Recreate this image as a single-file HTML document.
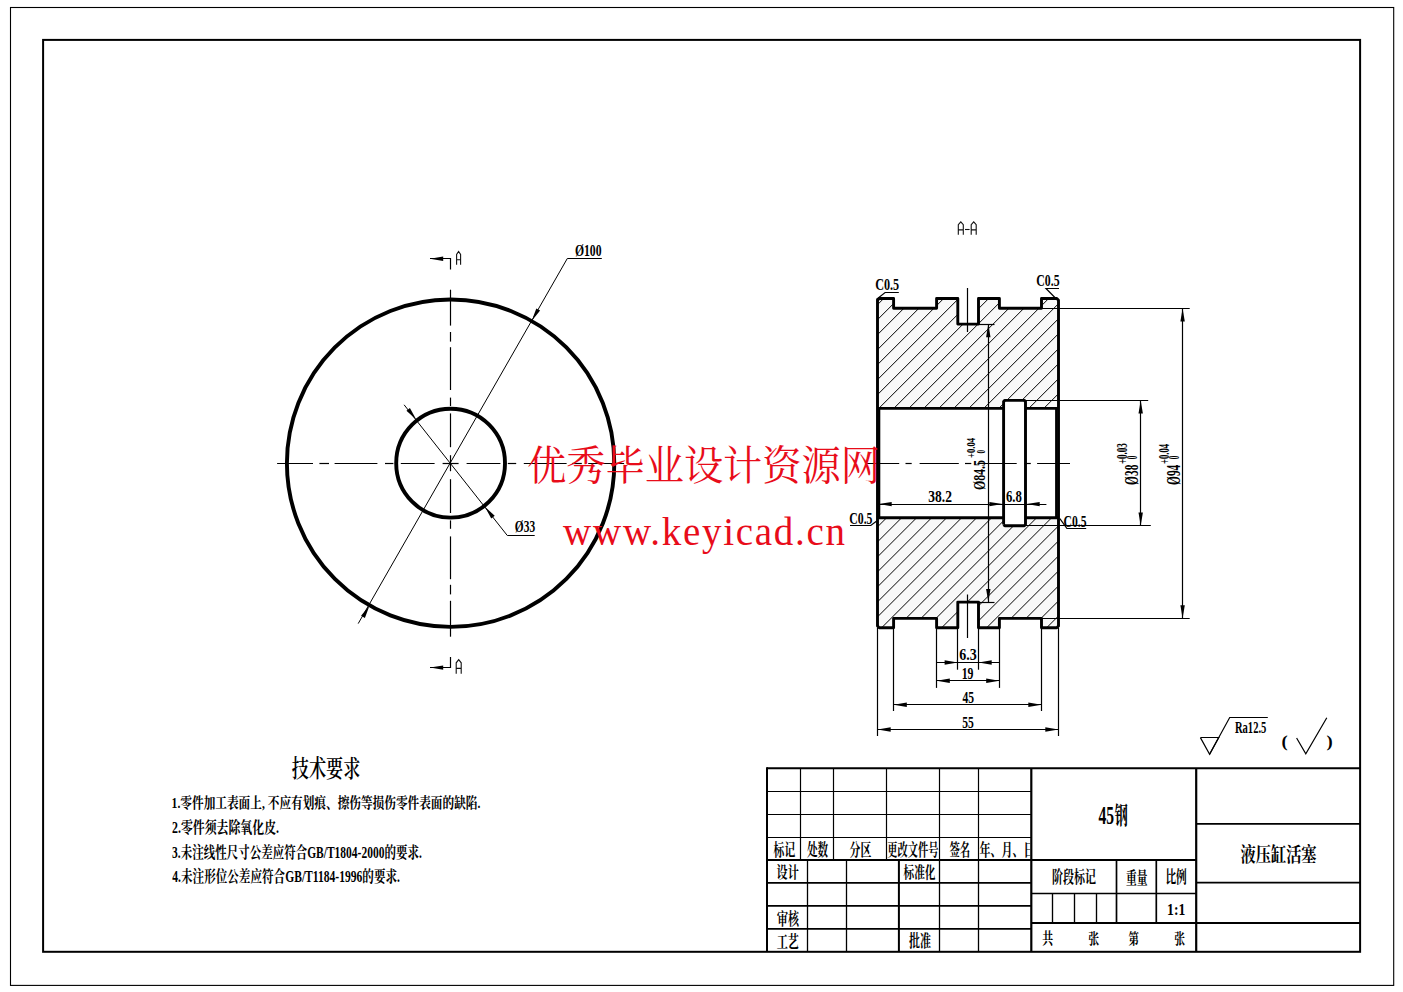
<!DOCTYPE html>
<html><head><meta charset="utf-8"><title>Drawing</title>
<style>
html,body{margin:0;padding:0;background:#fff;font-family:"Liberation Sans",sans-serif;}
svg{display:block;}
.sb{font-family:"Liberation Serif","Noto Serif CJK SC",serif;font-weight:bold;fill:#000;}
.sr{font-family:"Liberation Serif","Noto Serif CJK SC",serif;fill:#e80c1a;}
</style></head><body>
<svg width="1403" height="992" viewBox="0 0 1403 992">
<rect width="1403" height="992" fill="#fff"/>
<rect x="10.5" y="7.5" width="1383.2" height="977.9" fill="none" stroke="#000" stroke-width="1.1"/>
<rect x="43.1" y="39.9" width="1317" height="911.9" fill="none" stroke="#000" stroke-width="2"/>
<circle cx="450.6" cy="463.2" r="163.7" fill="none" stroke="#000" stroke-width="3.9"/>
<circle cx="450.6" cy="463.2" r="54.4" fill="none" stroke="#000" stroke-width="3.9"/>
<line x1="588.2" y1="463.5" x2="624.1" y2="463.5" stroke="#000" stroke-width="1.2"/>
<line x1="450.5" y1="600.8" x2="450.5" y2="636.7" stroke="#000" stroke-width="1.2"/>
<line x1="313" y1="463.5" x2="277.1" y2="463.5" stroke="#000" stroke-width="1.2"/>
<line x1="450.5" y1="325.6" x2="450.5" y2="289.7" stroke="#000" stroke-width="1.2"/>
<line x1="572.2" y1="463.5" x2="581.8" y2="463.5" stroke="#000" stroke-width="1.2"/>
<line x1="450.5" y1="584.8" x2="450.5" y2="594.4" stroke="#000" stroke-width="1.2"/>
<line x1="329" y1="463.5" x2="319.4" y2="463.5" stroke="#000" stroke-width="1.2"/>
<line x1="450.5" y1="341.6" x2="450.5" y2="332" stroke="#000" stroke-width="1.2"/>
<line x1="523.8" y1="463.5" x2="566.6" y2="463.5" stroke="#000" stroke-width="1.2"/>
<line x1="450.5" y1="536.4" x2="450.5" y2="579.2" stroke="#000" stroke-width="1.2"/>
<line x1="377.4" y1="463.5" x2="334.6" y2="463.5" stroke="#000" stroke-width="1.2"/>
<line x1="450.5" y1="390" x2="450.5" y2="347.2" stroke="#000" stroke-width="1.2"/>
<line x1="507.8" y1="463.5" x2="516.2" y2="463.5" stroke="#000" stroke-width="1.2"/>
<line x1="450.5" y1="520.4" x2="450.5" y2="528.8" stroke="#000" stroke-width="1.2"/>
<line x1="393.4" y1="463.5" x2="385" y2="463.5" stroke="#000" stroke-width="1.2"/>
<line x1="450.5" y1="406" x2="450.5" y2="397.6" stroke="#000" stroke-width="1.2"/>
<line x1="466.6" y1="463.5" x2="500.4" y2="463.5" stroke="#000" stroke-width="1.2"/>
<line x1="450.5" y1="479.2" x2="450.5" y2="513" stroke="#000" stroke-width="1.2"/>
<line x1="434.6" y1="463.5" x2="400.8" y2="463.5" stroke="#000" stroke-width="1.2"/>
<line x1="450.5" y1="447.2" x2="450.5" y2="413.4" stroke="#000" stroke-width="1.2"/>
<line x1="442.6" y1="463.5" x2="458.6" y2="463.5" stroke="#000" stroke-width="1.2"/>
<line x1="450.5" y1="455.2" x2="450.5" y2="471.2" stroke="#000" stroke-width="1.2"/>
<path d="M358.2 623.6 L567.3 258.5 L601.8 258.5" fill="none" stroke="#000" stroke-width="1" stroke-linejoin="miter"/>
<path d="M531.68 320.99 L536.3 308.43 L540.12 310.61 Z" fill="#000"/>
<path d="M369.52 605.41 L364.9 617.97 L361.08 615.79 Z" fill="#000"/>
<path d="M404.1 404.8 L507.3 535.5 L534.7 535.5" fill="none" stroke="#000" stroke-width="1" stroke-linejoin="miter"/>
<path d="M484.85 506.75 L494.73 515.76 L491.28 518.48 Z" fill="#000"/>
<path d="M416.35 419.65 L406.47 410.64 L409.92 407.92 Z" fill="#000"/>
<path d="M430 258.5 L450.5 258.5 L450.5 269.6" fill="none" stroke="#000" stroke-width="1.2" stroke-linejoin="miter"/>
<path d="M430 258.8 L443.2 256.6 L443.2 261 Z" fill="#000"/>
<path d="M430 667.5 L450.5 667.5 L450.5 657" fill="none" stroke="#000" stroke-width="1.2" stroke-linejoin="miter"/>
<path d="M430 667.6 L443.2 665.4 L443.2 669.8 Z" fill="#000"/>
<path d="M456.6 264.8 L456.6 254.43 L458.6 251.5 L460.6 254.43 L460.6 264.8 M456.6 259.75 L460.6 259.75" fill="none" stroke="#111" stroke-width="1.1"/>
<path d="M456.2 673.7 L456.2 662.78 L458.7 659.7 L461.2 662.78 L461.2 673.7 M456.2 668.38 L461.2 668.38" fill="none" stroke="#111" stroke-width="1.1"/>
<path d="M958.3 234.8 L958.3 224.66 L960.8 221.8 L963.3 224.66 L963.3 234.8 M958.3 229.86 L963.3 229.86" fill="none" stroke="#111" stroke-width="1.1"/>
<path d="M971.2 234.8 L971.2 224.66 L973.7 221.8 L976.2 224.66 L976.2 234.8 M971.2 229.86 L976.2 229.86" fill="none" stroke="#111" stroke-width="1.1"/>
<line x1="965" y1="229.5" x2="969.6" y2="229.5" stroke="#111" stroke-width="1.1"/>
<path d="M877.5 408.4 L877.5 298.5 L893.6 298.5 L893.6 308.3 L936.6 308.3 L936.6 298.5 L957.8 298.5 L957.8 324.1 L978.5 324.1 L978.5 298.5 L999.4 298.5 L999.4 308.3 L1041.5 308.3 L1041.5 298.5 L1058.5 298.5 L1058.5 408.4 L1025.5 408.4 L1025.5 400.4 L1003.6 400.4 L1003.6 408.4 Z" fill="#f8f8f8"/><path d="M877.5 517.8 L877.5 627.7 L893.6 627.7 L893.6 618.4 L936.6 618.4 L936.6 627.7 L957.8 627.7 L957.8 602.1 L978.5 602.1 L978.5 627.7 L999.4 627.7 L999.4 618.4 L1041.5 618.4 L1041.5 627.7 L1058.5 627.7 L1058.5 517.8 L1025.5 517.8 L1025.5 525.8 L1003.6 525.8 L1003.6 517.8 Z" fill="#f8f8f8"/>
<clipPath id="ct"><path d="M877.5 408.4 L877.5 298.5 L893.6 298.5 L893.6 308.3 L936.6 308.3 L936.6 298.5 L957.8 298.5 L957.8 324.1 L978.5 324.1 L978.5 298.5 L999.4 298.5 L999.4 308.3 L1041.5 308.3 L1041.5 298.5 L1058.5 298.5 L1058.5 408.4 L1025.5 408.4 L1025.5 400.4 L1003.6 400.4 L1003.6 408.4 Z"/></clipPath><clipPath id="cb"><path d="M877.5 517.8 L877.5 627.7 L893.6 627.7 L893.6 618.4 L936.6 618.4 L936.6 627.7 L957.8 627.7 L957.8 602.1 L978.5 602.1 L978.5 627.7 L999.4 627.7 L999.4 618.4 L1041.5 618.4 L1041.5 627.7 L1058.5 627.7 L1058.5 517.8 L1025.5 517.8 L1025.5 525.8 L1003.6 525.8 L1003.6 517.8 Z"/></clipPath>
<path d="M696.8 410.4 L810.7 296.5 M711.8 410.4 L825.7 296.5 M726.8 410.4 L840.7 296.5 M741.8 410.4 L855.7 296.5 M756.8 410.4 L870.7 296.5 M771.8 410.4 L885.7 296.5 M786.8 410.4 L900.7 296.5 M801.8 410.4 L915.7 296.5 M816.8 410.4 L930.7 296.5 M831.8 410.4 L945.7 296.5 M846.8 410.4 L960.7 296.5 M861.8 410.4 L975.7 296.5 M876.8 410.4 L990.7 296.5 M891.8 410.4 L1005.7 296.5 M906.8 410.4 L1020.7 296.5 M921.8 410.4 L1035.7 296.5 M936.8 410.4 L1050.7 296.5 M951.8 410.4 L1065.7 296.5 M966.8 410.4 L1080.7 296.5 M981.8 410.4 L1095.7 296.5 M996.8 410.4 L1110.7 296.5 M1011.8 410.4 L1125.7 296.5 M1026.8 410.4 L1140.7 296.5 M1041.8 410.4 L1155.7 296.5 M1056.8 410.4 L1170.7 296.5 M1071.8 410.4 L1185.7 296.5 M1086.8 410.4 L1200.7 296.5 M1101.8 410.4 L1215.7 296.5 M1116.8 410.4 L1230.7 296.5 M1131.8 410.4 L1245.7 296.5 M1146.8 410.4 L1260.7 296.5 M1161.8 410.4 L1275.7 296.5 M1176.8 410.4 L1290.7 296.5 M1191.8 410.4 L1305.7 296.5 M1206.8 410.4 L1320.7 296.5 M1221.8 410.4 L1335.7 296.5 M1236.8 410.4 L1350.7 296.5 M1251.8 410.4 L1365.7 296.5 M1266.8 410.4 L1380.7 296.5 M1281.8 410.4 L1395.7 296.5 M1296.8 410.4 L1410.7 296.5 M1311.8 410.4 L1425.7 296.5 " clip-path="url(#ct)" stroke="#000" stroke-width="1.0" fill="none"/>
<path d="M594.7 629.7 L708.6 515.8 M609.7 629.7 L723.6 515.8 M624.7 629.7 L738.6 515.8 M639.7 629.7 L753.6 515.8 M654.7 629.7 L768.6 515.8 M669.7 629.7 L783.6 515.8 M684.7 629.7 L798.6 515.8 M699.7 629.7 L813.6 515.8 M714.7 629.7 L828.6 515.8 M729.7 629.7 L843.6 515.8 M744.7 629.7 L858.6 515.8 M759.7 629.7 L873.6 515.8 M774.7 629.7 L888.6 515.8 M789.7 629.7 L903.6 515.8 M804.7 629.7 L918.6 515.8 M819.7 629.7 L933.6 515.8 M834.7 629.7 L948.6 515.8 M849.7 629.7 L963.6 515.8 M864.7 629.7 L978.6 515.8 M879.7 629.7 L993.6 515.8 M894.7 629.7 L1008.6 515.8 M909.7 629.7 L1023.6 515.8 M924.7 629.7 L1038.6 515.8 M939.7 629.7 L1053.6 515.8 M954.7 629.7 L1068.6 515.8 M969.7 629.7 L1083.6 515.8 M984.7 629.7 L1098.6 515.8 M999.7 629.7 L1113.6 515.8 M1014.7 629.7 L1128.6 515.8 M1029.7 629.7 L1143.6 515.8 M1044.7 629.7 L1158.6 515.8 M1059.7 629.7 L1173.6 515.8 M1074.7 629.7 L1188.6 515.8 M1089.7 629.7 L1203.6 515.8 M1104.7 629.7 L1218.6 515.8 M1119.7 629.7 L1233.6 515.8 M1134.7 629.7 L1248.6 515.8 M1149.7 629.7 L1263.6 515.8 M1164.7 629.7 L1278.6 515.8 M1179.7 629.7 L1293.6 515.8 M1194.7 629.7 L1308.6 515.8 M1209.7 629.7 L1323.6 515.8 " clip-path="url(#cb)" stroke="#000" stroke-width="1.0" fill="none"/>
<path d="M877.5 408.4 L877.5 300.2 L879.2 298.5 L893.6 298.5 L893.6 308.3 L936.6 308.3 L936.6 298.5 L957.8 298.5 L957.8 324.1 L978.5 324.1 L978.5 298.5 L999.4 298.5 L999.4 308.3 L1041.5 308.3 L1041.5 298.5 L1056.8 298.5 L1058.5 300.2 L1058.5 408.4 L1058.5 517.8 L1058.5 517.8 L1058.5 626 L1056.8 627.7 L1041.5 627.7 L1041.5 618.4 L999.4 618.4 L999.4 627.7 L978.5 627.7 L978.5 602.1 L957.8 602.1 L957.8 627.7 L936.6 627.7 L936.6 618.4 L893.6 618.4 L893.6 627.7 L879.2 627.7 L877.5 626 L877.5 517.8 L877.5 408.4" fill="none" stroke="#000" stroke-width="2.9" stroke-linejoin="round"/>
<path d="M877.5 408.4 L1003.6 408.4" fill="none" stroke="#000" stroke-width="2.9" stroke-linejoin="miter"/>
<path d="M1025.5 408.4 L1058.5 408.4" fill="none" stroke="#000" stroke-width="2.9" stroke-linejoin="miter"/>
<path d="M877.5 517.8 L1003.6 517.8" fill="none" stroke="#000" stroke-width="2.9" stroke-linejoin="miter"/>
<path d="M1025.5 517.8 L1058.5 517.8" fill="none" stroke="#000" stroke-width="2.9" stroke-linejoin="miter"/>
<path d="M1003.6 524.6 L1003.6 401.6 L1004.8 400.4 L1024.3 400.4 L1025.5 401.6 L1025.5 524.6 L1024.3 525.8 L1004.8 525.8 L1003.6 524.6" fill="none" stroke="#000" stroke-width="2.9" stroke-linejoin="round"/>
<line x1="879.2" y1="408.4" x2="879.2" y2="517.8" stroke="#000" stroke-width="2.2"/>
<line x1="1056.2" y1="408.4" x2="1056.2" y2="517.8" stroke="#000" stroke-width="2.2"/>
<line x1="866.3" y1="463.5" x2="899.2" y2="463.5" stroke="#000" stroke-width="1.2"/>
<line x1="905.5" y1="463.5" x2="911.7" y2="463.5" stroke="#000" stroke-width="1.2"/>
<line x1="919.6" y1="463.5" x2="958.8" y2="463.5" stroke="#000" stroke-width="1.2"/>
<line x1="965" y1="463.5" x2="971.3" y2="463.5" stroke="#000" stroke-width="1.2"/>
<line x1="977.5" y1="463.5" x2="1016.7" y2="463.5" stroke="#000" stroke-width="1.2"/>
<line x1="1024.6" y1="463.5" x2="1030.8" y2="463.5" stroke="#000" stroke-width="1.2"/>
<line x1="1037.1" y1="463.5" x2="1070" y2="463.5" stroke="#000" stroke-width="1.2"/>
<line x1="967.5" y1="288" x2="967.5" y2="332" stroke="#000" stroke-width="1.2"/>
<line x1="967.5" y1="594.5" x2="967.5" y2="638" stroke="#000" stroke-width="1.2"/>
<line x1="988.5" y1="324.1" x2="988.5" y2="602.1" stroke="#000" stroke-width="1.2"/>
<line x1="978.5" y1="324.5" x2="994.5" y2="324.5" stroke="#000" stroke-width="1.2"/>
<line x1="978.5" y1="602.5" x2="994.5" y2="602.5" stroke="#000" stroke-width="1.2"/>
<path d="M988.3 324.1 L990.5 337.3 L986.1 337.3 Z" fill="#000"/>
<path d="M988.3 602.1 L986.1 588.9 L990.5 588.9 Z" fill="#000"/>
<line x1="1140.5" y1="400.4" x2="1140.5" y2="525.8" stroke="#000" stroke-width="1.2"/>
<line x1="1025.5" y1="400.5" x2="1148.2" y2="400.5" stroke="#000" stroke-width="1.2"/>
<line x1="1025.5" y1="525.5" x2="1150.8" y2="525.5" stroke="#000" stroke-width="1.2"/>
<path d="M1140.7 400.4 L1142.9 413.6 L1138.5 413.6 Z" fill="#000"/>
<path d="M1140.7 525.8 L1138.5 512.6 L1142.9 512.6 Z" fill="#000"/>
<line x1="1182.5" y1="308.3" x2="1182.5" y2="618.4" stroke="#000" stroke-width="1.2"/>
<line x1="1041.5" y1="308.5" x2="1189.7" y2="308.5" stroke="#000" stroke-width="1.2"/>
<line x1="1041.5" y1="618.5" x2="1189.7" y2="618.5" stroke="#000" stroke-width="1.2"/>
<path d="M1182.6 308.3 L1184.8 321.5 L1180.4 321.5 Z" fill="#000"/>
<path d="M1182.6 618.4 L1180.4 605.2 L1184.8 605.2 Z" fill="#000"/>
<line x1="877.5" y1="504.5" x2="1046.4" y2="504.5" stroke="#000" stroke-width="1.2"/>
<path d="M878.5 504.1 L891.7 501.9 L891.7 506.3 Z" fill="#000"/>
<path d="M1002.6 504.1 L989.4 506.3 L989.4 501.9 Z" fill="#000"/>
<path d="M1026.5 504.1 L1039.7 501.9 L1039.7 506.3 Z" fill="#000"/>
<line x1="957.5" y1="627.7" x2="957.5" y2="669.7" stroke="#000" stroke-width="1.2"/>
<line x1="978.5" y1="627.7" x2="978.5" y2="669.7" stroke="#000" stroke-width="1.2"/>
<line x1="936.4" y1="662.5" x2="999.4" y2="662.5" stroke="#000" stroke-width="1.2"/>
<path d="M957.8 662.5 L944.6 664.7 L944.6 660.3 Z" fill="#000"/>
<path d="M978.5 662.5 L991.7 660.3 L991.7 664.7 Z" fill="#000"/>
<line x1="936.5" y1="627.7" x2="936.5" y2="687.9" stroke="#000" stroke-width="1.2"/>
<line x1="999.5" y1="627.7" x2="999.5" y2="687.9" stroke="#000" stroke-width="1.2"/>
<line x1="936.6" y1="680.5" x2="999.4" y2="680.5" stroke="#000" stroke-width="1.2"/>
<path d="M936.6 680.7 L949.8 678.5 L949.8 682.9 Z" fill="#000"/>
<path d="M999.4 680.7 L986.2 682.9 L986.2 678.5 Z" fill="#000"/>
<line x1="893.5" y1="627.7" x2="893.5" y2="711" stroke="#000" stroke-width="1.2"/>
<line x1="1041.5" y1="627.7" x2="1041.5" y2="711" stroke="#000" stroke-width="1.2"/>
<line x1="893.6" y1="704.5" x2="1041.5" y2="704.5" stroke="#000" stroke-width="1.2"/>
<path d="M893.6 704.7 L906.8 702.5 L906.8 706.9 Z" fill="#000"/>
<path d="M1041.5 704.7 L1028.3 706.9 L1028.3 702.5 Z" fill="#000"/>
<line x1="877.5" y1="627.7" x2="877.5" y2="736" stroke="#000" stroke-width="1.2"/>
<line x1="1058.5" y1="627.7" x2="1058.5" y2="736" stroke="#000" stroke-width="1.2"/>
<line x1="877.5" y1="729.5" x2="1058.5" y2="729.5" stroke="#000" stroke-width="1.2"/>
<path d="M877.5 729.5 L890.7 727.3 L890.7 731.7 Z" fill="#000"/>
<path d="M1058.5 729.5 L1045.3 731.7 L1045.3 727.3 Z" fill="#000"/>
<path d="M876.3 299.5 L885.1 292.5 L898.8 292.5" fill="none" stroke="#000" stroke-width="1.2" stroke-linejoin="miter"/>
<path d="M1054.9 297.5 L1046 288.5 L1059 288.5" fill="none" stroke="#000" stroke-width="1.2" stroke-linejoin="miter"/>
<path d="M876.4 521.2 L870.8 525.5 L850 525.5" fill="none" stroke="#000" stroke-width="1.2" stroke-linejoin="miter"/>
<path d="M1059.9 518.6 L1066.9 528.5 L1086.2 528.5" fill="none" stroke="#000" stroke-width="1.2" stroke-linejoin="miter"/>
<path d="M1200.4 737.5 L1218.7 737.5 L1209.6 754.3 L1200.4 737.6" fill="none" stroke="#000" stroke-width="1.2" stroke-linejoin="miter"/>
<path d="M1209.6 754.3 L1229.7 717.5 L1267.8 717.5" fill="none" stroke="#000" stroke-width="1.2" stroke-linejoin="miter"/>
<path d="M1296.6 738 L1305.8 753.7 L1326.8 717.8" fill="none" stroke="#000" stroke-width="1.2" stroke-linejoin="miter"/>
<line x1="767" y1="768.2" x2="1360.1" y2="768.2" stroke="#000" stroke-width="2"/>
<line x1="767" y1="767.2" x2="767" y2="951.8" stroke="#000" stroke-width="2"/>
<line x1="1031.3" y1="768.2" x2="1031.3" y2="951.8" stroke="#000" stroke-width="2.2"/>
<line x1="1196.2" y1="768.2" x2="1196.2" y2="951.8" stroke="#000" stroke-width="2.2"/>
<line x1="767" y1="791.5" x2="1031.3" y2="791.5" stroke="#000" stroke-width="1.2"/>
<line x1="767" y1="814.5" x2="1031.3" y2="814.5" stroke="#000" stroke-width="1.2"/>
<line x1="767" y1="837.5" x2="1031.3" y2="837.5" stroke="#000" stroke-width="1.2"/>
<line x1="767" y1="859.9" x2="1196.2" y2="859.9" stroke="#000" stroke-width="2"/>
<line x1="800.5" y1="768.2" x2="800.5" y2="859.9" stroke="#000" stroke-width="1.2"/>
<line x1="833.5" y1="768.2" x2="833.5" y2="859.9" stroke="#000" stroke-width="1.2"/>
<line x1="886.5" y1="768.2" x2="886.5" y2="859.9" stroke="#000" stroke-width="1.2"/>
<line x1="939.5" y1="768.2" x2="939.5" y2="859.9" stroke="#000" stroke-width="1.2"/>
<line x1="978.5" y1="768.2" x2="978.5" y2="859.9" stroke="#000" stroke-width="1.2"/>
<line x1="767" y1="882.8" x2="1031.3" y2="882.8" stroke="#000" stroke-width="1.7"/>
<line x1="767" y1="905.9" x2="1031.3" y2="905.9" stroke="#000" stroke-width="1.7"/>
<line x1="767" y1="928.9" x2="1031.3" y2="928.9" stroke="#000" stroke-width="1.7"/>
<line x1="807.5" y1="859.9" x2="807.5" y2="951.8" stroke="#000" stroke-width="1.3"/>
<line x1="846.5" y1="859.9" x2="846.5" y2="951.8" stroke="#000" stroke-width="1.3"/>
<line x1="939.5" y1="859.9" x2="939.5" y2="951.8" stroke="#000" stroke-width="1.3"/>
<line x1="978.5" y1="859.9" x2="978.5" y2="951.8" stroke="#000" stroke-width="1.3"/>
<line x1="898.9" y1="859.9" x2="898.9" y2="951.8" stroke="#000" stroke-width="2"/>
<line x1="1031.3" y1="893.5" x2="1196.2" y2="893.5" stroke="#000" stroke-width="1.3"/>
<line x1="1031.3" y1="922.9" x2="1360.1" y2="922.9" stroke="#000" stroke-width="2"/>
<line x1="1116.5" y1="859.9" x2="1116.5" y2="922.9" stroke="#000" stroke-width="1.7"/>
<line x1="1156.3" y1="859.9" x2="1156.3" y2="922.9" stroke="#000" stroke-width="1.7"/>
<line x1="1052.5" y1="893.5" x2="1052.5" y2="922.9" stroke="#000" stroke-width="1.35"/>
<line x1="1074.5" y1="893.5" x2="1074.5" y2="922.9" stroke="#000" stroke-width="1.35"/>
<line x1="1096.5" y1="893.5" x2="1096.5" y2="922.9" stroke="#000" stroke-width="1.35"/>
<line x1="1196.2" y1="823.8" x2="1360.1" y2="823.8" stroke="#000" stroke-width="1.8"/>
<line x1="1196.2" y1="882.7" x2="1360.1" y2="882.7" stroke="#000" stroke-width="1.8"/>
<text class="sb" x="875.2" y="289.8" font-size="17.2" textLength="24" lengthAdjust="spacingAndGlyphs">C0.5</text>
<text class="sb" x="1036.3" y="285.9" font-size="17.5" textLength="23.3" lengthAdjust="spacingAndGlyphs">C0.5</text>
<text class="sb" x="849.3" y="523.9" font-size="17.2" textLength="23.2" lengthAdjust="spacingAndGlyphs">C0.5</text>
<text class="sb" x="1063.5" y="526.6" font-size="16.7" textLength="23" lengthAdjust="spacingAndGlyphs">C0.5</text>
<text class="sb" x="928.3" y="501.8" font-size="16.7" textLength="23.6" lengthAdjust="spacingAndGlyphs">38.2</text>
<text class="sb" x="1006" y="501.8" font-size="16.7" textLength="15.9" lengthAdjust="spacingAndGlyphs">6.8</text>
<text class="sb" x="959.3" y="660.2" font-size="16" textLength="17.5" lengthAdjust="spacingAndGlyphs">6.3</text>
<text class="sb" x="961.7" y="678.8" font-size="16.7" textLength="11.8" lengthAdjust="spacingAndGlyphs">19</text>
<text class="sb" x="962.4" y="702.6" font-size="16.7" textLength="11.6" lengthAdjust="spacingAndGlyphs">45</text>
<text class="sb" x="962.2" y="727.6" font-size="16.4" textLength="11.6" lengthAdjust="spacingAndGlyphs">55</text>
<text class="sb" x="574.9" y="256.2" font-size="17.75" textLength="26.6" lengthAdjust="spacingAndGlyphs">Ø100</text>
<text class="sb" x="514.8" y="532.4" font-size="17.5" textLength="20.3" lengthAdjust="spacingAndGlyphs">Ø33</text>
<text class="sb" x="1234.9" y="732.8" font-size="17.2" textLength="31.5" lengthAdjust="spacingAndGlyphs">Ra12.5</text>
<text class="sb" x="1167.1" y="915" font-size="17.75" textLength="18.2" lengthAdjust="spacingAndGlyphs">1:1</text>
<text class="sb" x="1098.5" y="823.6" font-size="25.6" textLength="15.6" lengthAdjust="spacingAndGlyphs">45</text>
<text class="sb" transform="rotate(-90)" x="-490.1" y="985" font-size="17.3" textLength="30.1" lengthAdjust="spacingAndGlyphs">Ø84.5</text>
<text class="sb" transform="rotate(-90)" x="-457.9" y="975.1" font-size="13.2" textLength="20" lengthAdjust="spacingAndGlyphs">+0.04</text>
<text class="sb" transform="rotate(-90)" x="-453.5" y="985.2" font-size="13.5" textLength="3.6" lengthAdjust="spacingAndGlyphs">0</text>
<text class="sb" transform="rotate(-90)" x="-484.9" y="1138" font-size="18.6" textLength="20.3" lengthAdjust="spacingAndGlyphs">Ø38</text>
<text class="sb" transform="rotate(-90)" x="-464" y="1127.2" font-size="13.6" textLength="20.8" lengthAdjust="spacingAndGlyphs">+0.03</text>
<text class="sb" transform="rotate(-90)" x="-459.2" y="1137" font-size="13.6" textLength="3.6" lengthAdjust="spacingAndGlyphs">0</text>
<text class="sb" transform="rotate(-90)" x="-484.9" y="1179.9" font-size="18.9" textLength="20.2" lengthAdjust="spacingAndGlyphs">Ø94</text>
<text class="sb" transform="rotate(-90)" x="-464" y="1169.2" font-size="13.6" textLength="20.1" lengthAdjust="spacingAndGlyphs">+0.04</text>
<text class="sb" transform="rotate(-90)" x="-459.2" y="1179" font-size="13.6" textLength="3.6" lengthAdjust="spacingAndGlyphs">0</text>
<text class="sb" x="773.6" y="855.7" font-size="17.1" textLength="21.6" lengthAdjust="spacingAndGlyphs">标记</text>
<text class="sb" x="806.9" y="855.6" font-size="17" textLength="21.2" lengthAdjust="spacingAndGlyphs">处数</text>
<text class="sb" x="849.6" y="855.6" font-size="16.9" textLength="21.7" lengthAdjust="spacingAndGlyphs">分区</text>
<text class="sb" x="887.3" y="855.7" font-size="17.1" textLength="51.2" lengthAdjust="spacingAndGlyphs">更改文件号</text>
<text class="sb" x="949.4" y="855.6" font-size="17" textLength="20.8" lengthAdjust="spacingAndGlyphs">签名</text>
<clipPath id="cd"><rect x="979" y="838" width="51.2" height="21"/></clipPath><g clip-path="url(#cd)">
<text class="sb" x="979.5" y="855.7" font-size="16.9" textLength="55" lengthAdjust="spacingAndGlyphs">年、月、日</text>
</g>
<text class="sb" x="776.6" y="878.3" font-size="16.4" textLength="22.2" lengthAdjust="spacingAndGlyphs">设计</text>
<text class="sb" x="903.5" y="878.3" font-size="16.3" textLength="32" lengthAdjust="spacingAndGlyphs">标准化</text>
<text class="sb" x="776.9" y="924.7" font-size="17.5" textLength="22" lengthAdjust="spacingAndGlyphs">审核</text>
<text class="sb" x="776.7" y="947.9" font-size="16.8" textLength="22.3" lengthAdjust="spacingAndGlyphs">工艺</text>
<text class="sb" x="909" y="947.4" font-size="16.7" textLength="22" lengthAdjust="spacingAndGlyphs">批准</text>
<text class="sb" x="1051.9" y="883.2" font-size="16.8" textLength="44.1" lengthAdjust="spacingAndGlyphs">阶段标记</text>
<text class="sb" x="1125.9" y="883.6" font-size="17.2" textLength="21.6" lengthAdjust="spacingAndGlyphs">重量</text>
<text class="sb" x="1165.4" y="883.2" font-size="16.8" textLength="21.4" lengthAdjust="spacingAndGlyphs">比例</text>
<text class="sb" x="1042.3" y="943.9" font-size="15.4" textLength="11" lengthAdjust="spacingAndGlyphs">共</text>
<text class="sb" x="1088.3" y="943.9" font-size="15.3" textLength="10.9" lengthAdjust="spacingAndGlyphs">张</text>
<text class="sb" x="1128.6" y="944" font-size="15.2" textLength="10.4" lengthAdjust="spacingAndGlyphs">第</text>
<text class="sb" x="1174.3" y="943.9" font-size="15.3" textLength="10.8" lengthAdjust="spacingAndGlyphs">张</text>
<text class="sb" x="1114.8" y="823.9" font-size="23.9" textLength="13" lengthAdjust="spacingAndGlyphs">钢</text>
<text class="sb" x="1240.5" y="862.1" font-size="20.7" textLength="76.1" lengthAdjust="spacingAndGlyphs">液压缸活塞</text>
<text class="sb" x="1281.6" y="746.6" font-size="15.9" textLength="6.2" lengthAdjust="spacingAndGlyphs">(</text>
<text class="sb" x="1326.6" y="746.6" font-size="15.9" textLength="6.2" lengthAdjust="spacingAndGlyphs">)</text>
<text x="291.8" y="776.6" font-size="24.2" font-weight="600" fill="#000" font-family='"Liberation Serif","Noto Serif CJK SC",serif' textLength="68.5" lengthAdjust="spacingAndGlyphs">技术要求</text>
<text class="sb" x="171.6" y="808.05" font-size="15.2" textLength="308.8" lengthAdjust="spacingAndGlyphs">1.零件加工表面上, 不应有划痕、擦伤等损伤零件表面的缺陷.</text>
<text class="sb" x="172" y="833.2" font-size="16" textLength="107" lengthAdjust="spacingAndGlyphs">2.零件须去除氧化皮.</text>
<text class="sb" x="172.1" y="858.15" font-size="16.1" textLength="249.7" lengthAdjust="spacingAndGlyphs">3.未注线性尺寸公差应符合GB/T1804-2000的要求.</text>
<text class="sb" x="172.3" y="881.8" font-size="16.2" textLength="227.7" lengthAdjust="spacingAndGlyphs">4.未注形位公差应符合GB/T1184-1996的要求.</text>
<text class="sr" x="527.1" y="479.5" font-size="40.7" textLength="352.8" lengthAdjust="spacingAndGlyphs">优秀毕业设计资源网</text>
<text class="sr" x="563.1" y="545.3" font-size="39" textLength="282" lengthAdjust="spacing">www.keyicad.cn</text>
</svg>
</body></html>
